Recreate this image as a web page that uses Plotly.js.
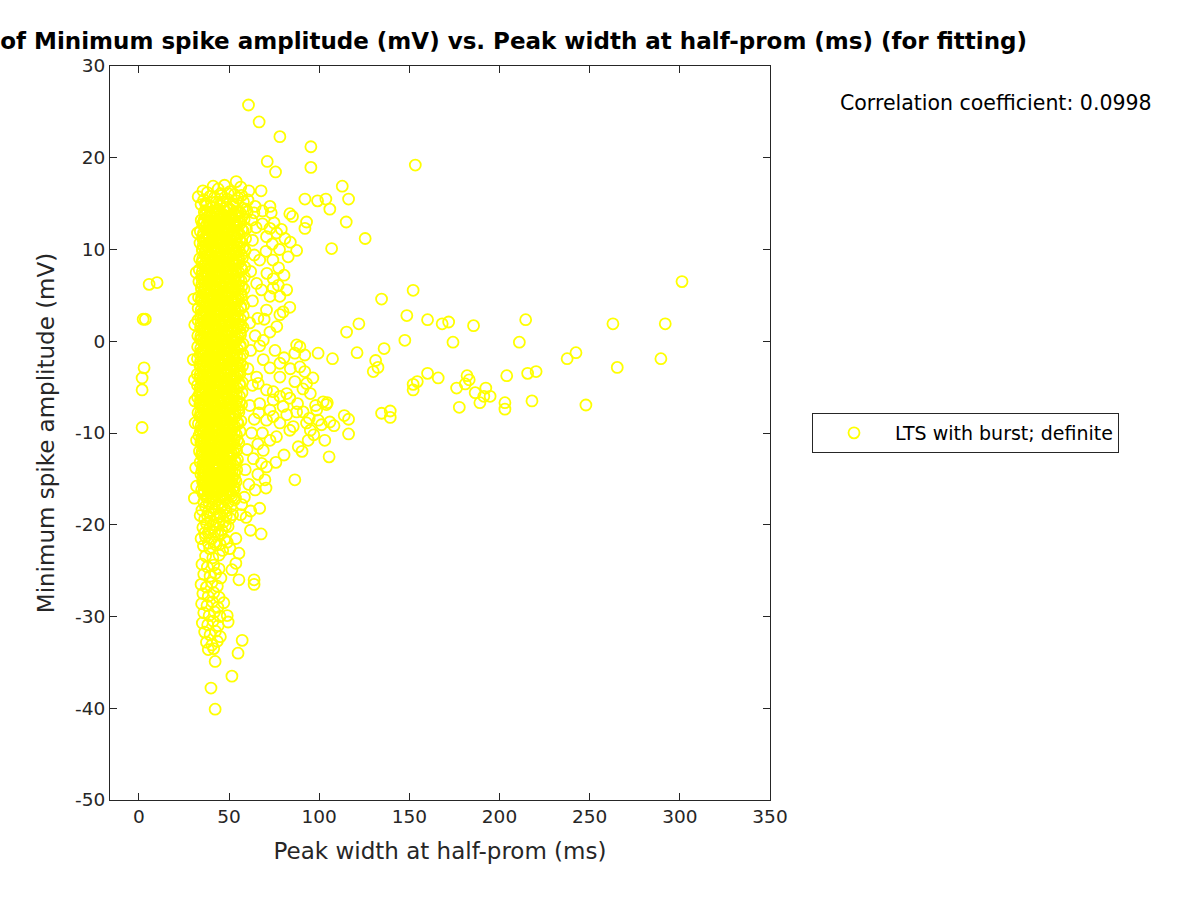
<!DOCTYPE html>
<html>
<head>
<meta charset="utf-8">
<script src="https://cdn.plot.ly/plotly-3.0.1.min.js"></script>
<style>html,body{margin:0;padding:0;background:#fff;}#chart{width:1200px;height:900px;}</style>
</head>
<body>
<div id="chart"></div>
<script>
// ---- Data (Peak width at half-prom (ms), Minimum spike amplitude (mV)) ----
const coreWidth = [
36.3,39.4,43.1,46.2,49.6,53.3,56.2,60.1,
34.6,37.9,41.0,44.7,47.8,51.5,54.6,58.4,
35.9,39.3,42.4,46.1,49.2,52.8,56.1,59.6,
34.1,37.7,40.9,44.4,47.9,51.1,54.7,57.9,
35.6,38.8,42.4,45.6,49.1,52.4,55.9,59.2,
33.9,37.2,40.8,44.1,47.4,50.9,54.2,57.8,
35.3,38.5,42.1,45.3,48.9,52.1,55.7,58.9,
33.7,37.1,40.3,43.9,47.1,50.7,53.9,57.5,
35.1,38.3,41.9,45.1,48.7,51.9,55.5,58.7,
33.5,36.9,40.1,43.7,46.9,50.5,53.7,57.3,
34.9,38.1,41.7,44.9,48.5,51.7,55.3,58.5,
33.3,36.7,39.9,43.5,46.7,50.3,53.5,57.1,
34.7,37.9,41.5,44.7,48.3,51.5,55.1,58.3,
33.1,36.5,39.7,43.3,46.5,50.1,53.3,56.9,
34.5,37.7,41.3,44.5,48.1,51.3,54.9,58.1,
32.9,36.3,39.5,43.1,46.3,49.9,53.1,56.7,
34.3,37.5,41.1,44.3,47.9,51.1,54.7,57.9,
32.8,36.1,39.4,42.9,46.2,49.7,52.9,56.5,
34.2,37.4,40.9,44.2,47.7,50.9,54.5,57.8,
32.7,36.0,39.3,42.8,46.1,49.6,52.8,56.4,
34.1,37.3,40.8,44.1,47.6,50.8,54.4,57.7,
32.6,35.9,39.2,42.7,46.0,49.5,52.7,56.3,
34.0,37.2,40.7,44.0,47.5,50.7,54.3,57.6,
32.5,35.8,39.1,42.6,45.9,49.4,52.6,56.2,
33.9,37.1,40.6,43.9,47.4,50.6,54.2,57.5,
32.4,35.7,39.0,42.5,45.8,49.3,52.5,56.1,
33.8,37.0,40.5,43.8,47.3,50.5,54.1,57.4,
32.5,35.6,38.9,42.4,45.7,49.2,52.4,56.0,
33.7,36.9,40.4,43.7,47.2,50.4,54.0,57.2,
32.6,35.7,38.8,42.3,45.6,49.1,52.3,55.8,
33.8,36.8,40.3,43.6,47.1,50.3,53.8,57.0,
32.8,35.8,38.9,42.2,45.5,48.9,52.1,55.5,
33.9,36.9,40.2,43.5,46.9,50.1,53.5,56.6,
33.0,36.0,39.0,42.2,45.4,48.7,51.8,55.1,
34.1,37.1,40.2,43.4,46.6,49.8,53.0,56.1,
33.3,36.2,39.2,42.2,45.3,48.4,51.5,54.6,
34.4,37.3,40.3,43.3,46.3,49.4,52.4,55.4,
33.6,36.5,39.4,42.3,45.2,48.2,51.1,54.1,
34.7,37.5,40.4,43.2,46.1,49.0,51.9,54.7,
34.0,36.8,39.6,42.4,45.2,48.0,50.8,53.7,
35.0,37.7,40.5,43.3,46.0,48.8,51.6,54.3,
34.4,37.1,39.8,42.5,45.2,47.9,50.6,53.3,
35.3,38.0,40.6,43.3,46.0,48.6,51.3,53.9,
34.8,37.4,40.0,42.6,45.2,47.8,50.4,53.0,
35.6,38.2,40.8,43.4,45.9,48.5,51.1,53.6
];
const coreAmp = [
14.1,13.8,14.2,13.9,14.3,13.8,14.0,14.1,
13.2,13.5,13.0,13.4,13.2,13.5,13.1,13.3,
12.8,12.6,12.5,12.9,12.4,12.7,12.8,12.3,
12.0,11.7,12.1,11.8,12.2,11.7,11.9,12.0,
11.1,11.4,10.9,11.3,11.1,11.4,11.0,11.2,
10.7,10.5,10.4,10.8,10.3,10.6,10.7,10.2,
9.9,9.6,10.0,9.7,10.1,9.6,9.8,9.9,
9.0,9.3,8.8,9.2,9.0,9.3,8.9,9.1,
8.6,8.4,8.3,8.7,8.2,8.5,8.6,8.1,
7.8,7.5,7.9,7.6,8.0,7.5,7.7,7.8,
6.9,7.2,6.7,7.1,6.9,7.2,6.8,7.0,
6.5,6.3,6.2,6.6,6.1,6.4,6.5,6.0,
5.7,5.4,5.8,5.5,5.9,5.4,5.6,5.7,
4.8,5.1,4.6,5.0,4.8,5.1,4.7,4.9,
4.4,4.2,4.1,4.5,4.0,4.3,4.4,3.9,
3.6,3.3,3.7,3.4,3.8,3.3,3.5,3.6,
2.7,3.0,2.5,2.9,2.7,3.0,2.6,2.8,
2.3,2.1,2.0,2.4,1.9,2.2,2.3,1.8,
1.5,1.2,1.6,1.3,1.7,1.2,1.4,1.5,
0.6,0.9,0.4,0.8,0.6,0.9,0.5,0.7,
0.2,0.0,-0.1,0.3,-0.2,0.1,0.2,-0.3,
-0.6,-0.9,-0.5,-0.8,-0.4,-0.9,-0.7,-0.6,
-1.5,-1.2,-1.7,-1.3,-1.5,-1.2,-1.6,-1.4,
-1.9,-2.1,-2.2,-1.8,-2.3,-2.0,-1.9,-2.4,
-2.7,-3.0,-2.6,-2.9,-2.5,-3.0,-2.8,-2.7,
-3.6,-3.3,-3.8,-3.4,-3.6,-3.3,-3.7,-3.5,
-4.0,-4.2,-4.3,-3.9,-4.4,-4.1,-4.0,-4.5,
-4.8,-5.1,-4.7,-5.0,-4.6,-5.1,-4.9,-4.8,
-5.7,-5.4,-5.9,-5.5,-5.7,-5.4,-5.8,-5.6,
-6.1,-6.3,-6.4,-6.0,-6.5,-6.2,-6.1,-6.6,
-6.9,-7.2,-6.8,-7.1,-6.7,-7.2,-7.0,-6.9,
-7.8,-7.5,-8.0,-7.6,-7.8,-7.5,-7.9,-7.7,
-8.2,-8.4,-8.5,-8.1,-8.6,-8.3,-8.2,-8.7,
-9.0,-9.3,-8.9,-9.2,-8.8,-9.3,-9.1,-9.0,
-9.9,-9.6,-10.1,-9.7,-9.9,-9.6,-10.0,-9.8,
-10.3,-10.5,-10.6,-10.2,-10.7,-10.4,-10.3,-10.8,
-11.1,-11.4,-11.0,-11.3,-10.9,-11.4,-11.2,-11.1,
-12.0,-11.7,-12.2,-11.8,-12.0,-11.7,-12.1,-11.9,
-12.4,-12.6,-12.7,-12.3,-12.8,-12.5,-12.4,-12.9,
-13.2,-13.5,-13.1,-13.4,-13.0,-13.5,-13.3,-13.2,
-14.1,-13.8,-14.3,-13.9,-14.1,-13.8,-14.2,-14.0,
-14.5,-14.7,-14.8,-14.4,-14.9,-14.6,-14.5,-15.0,
-15.3,-15.6,-15.2,-15.5,-15.1,-15.6,-15.4,-15.3,
-16.2,-15.9,-16.4,-16.0,-16.2,-15.9,-16.3,-16.1,
-16.6,-16.8,-16.9,-16.5,-17.0,-16.7,-16.6,-17.1
];

const coreFillWidth = [
36.8,40.2,43.6,47.1,50.4,53.9,57.3,
35.3,38.7,42.2,45.5,49.0,52.3,55.8,
36.7,40.0,43.5,46.9,50.3,53.7,57.1,
35.4,38.8,42.1,45.6,48.9,52.4,55.7,
36.6,40.1,43.4,46.8,50.2,53.6,57.0,
35.2,38.6,42.0,45.4,48.8,52.2,55.6,
36.5,39.9,43.3,46.7,50.1,53.5,56.9,
35.1,38.5,41.9,45.3,48.7,52.1,55.5,
36.4,39.8,43.2,46.6,50.0,53.4,56.8,
35.0,38.4,41.8,45.2,48.6,52.0,55.4,
36.3,39.7,43.1,46.5,49.9,53.3,56.7,
34.9,38.3,41.7,45.1,48.5,51.9,55.3,
36.2,39.6,43.0,46.4,49.8,53.2,56.6,
34.8,38.2,41.6,45.0,48.4,51.8,55.2,
36.1,39.5,42.9,46.3,49.7,53.1,56.5,
34.7,38.1,41.5,44.9,48.3,51.7,55.1,
36.0,39.4,42.8,46.2,49.6,53.0,56.4,
34.6,38.0,41.4,44.8,48.2,51.6,55.0,
35.9,39.3,42.7,46.1,49.5,52.9,56.3,
34.5,37.9,41.3,44.7,48.1,51.5,54.9,
35.8,39.2,42.6,46.0,49.4,52.8,56.2,
34.4,37.8,41.2,44.6,48.0,51.4,54.8,
35.7,39.1,42.5,45.9,49.3,52.7,56.1,
34.3,37.7,41.1,44.5,47.9,51.3,54.7,
35.6,39.0,42.4,45.8,49.2,52.6,56.0,
34.2,37.6,41.0,44.4,47.8,51.2,54.6,
35.5,38.9,42.3,45.7,49.1,52.5,55.9,
34.1,37.5,40.9,44.3,47.7,51.1,54.5,
35.4,38.8,42.2,45.6,49.0,52.4,55.8,
34.2,37.4,40.8,44.2,47.6,51.0,54.3,
35.4,38.6,42.0,45.3,48.6,51.9,55.2,
34.4,37.5,40.7,43.9,47.1,50.3,53.6,
35.5,38.6,41.8,45.0,48.2,51.4,54.6,
34.6,37.7,40.8,43.9,47.0,50.1,53.2,
35.7,38.7,41.8,44.8,47.9,51.0,54.1,
34.9,37.9,40.9,43.9,46.9,49.9,52.9,
35.9,38.9,41.8,44.8,47.7,50.7,53.7,
35.2,38.1,41.0,43.9,46.8,49.7,52.6,
36.1,38.9,41.8,44.7,47.6,50.5,53.3,
35.5,38.3,41.1,43.9,46.7,49.5,52.3,
36.3,39.1,41.9,44.7,47.5,50.3,53.0,
35.8,38.5,41.2,43.9,46.6,49.3,52.0,
36.5,39.2,41.9,44.6,47.3,50.0,52.7,
36.0,38.7,41.4,44.1,46.8,49.5,52.2
];
const coreFillAmp = [
13.8,13.6,13.9,13.7,13.5,13.8,13.6,
12.8,13.1,13.0,12.9,13.2,12.9,13.1,
12.4,12.2,12.5,12.3,12.1,12.4,12.2,
11.4,11.7,11.6,11.5,11.8,11.5,11.7,
11.0,10.8,11.1,10.9,10.7,11.0,10.8,
10.0,10.3,10.2,10.1,10.4,10.1,10.3,
9.6,9.4,9.7,9.5,9.3,9.6,9.4,
8.6,8.9,8.8,8.7,9.0,8.7,8.9,
8.2,8.0,8.3,8.1,7.9,8.2,8.0,
7.2,7.5,7.4,7.3,7.6,7.3,7.5,
6.8,6.6,6.9,6.7,6.5,6.8,6.6,
5.8,6.1,6.0,5.9,6.2,5.9,6.1,
5.4,5.2,5.5,5.3,5.1,5.4,5.2,
4.4,4.7,4.6,4.5,4.8,4.5,4.7,
4.0,3.8,4.1,3.9,3.7,4.0,3.8,
3.0,3.3,3.2,3.1,3.4,3.1,3.3,
2.6,2.4,2.7,2.5,2.3,2.6,2.4,
1.6,1.9,1.8,1.7,2.0,1.7,1.9,
1.2,1.0,1.3,1.1,0.9,1.2,1.0,
0.2,0.5,0.4,0.3,0.6,0.3,0.5,
-0.2,-0.4,-0.1,-0.3,-0.5,-0.2,-0.4,
-1.2,-0.9,-1.0,-1.1,-0.8,-1.1,-0.9,
-1.6,-1.8,-1.5,-1.7,-1.9,-1.6,-1.8,
-2.6,-2.3,-2.4,-2.5,-2.2,-2.5,-2.3,
-3.0,-3.2,-2.9,-3.1,-3.3,-3.0,-3.2,
-4.0,-3.7,-3.8,-3.9,-3.6,-3.9,-3.7,
-4.4,-4.6,-4.3,-4.5,-4.7,-4.4,-4.6,
-5.4,-5.1,-5.2,-5.3,-5.0,-5.3,-5.1,
-5.8,-6.0,-5.7,-5.9,-6.1,-5.8,-6.0,
-6.8,-6.5,-6.6,-6.7,-6.4,-6.7,-6.5,
-7.2,-7.4,-7.1,-7.3,-7.5,-7.2,-7.4,
-8.2,-7.9,-8.0,-8.1,-7.8,-8.1,-7.9,
-8.6,-8.8,-8.5,-8.7,-8.9,-8.6,-8.8,
-9.6,-9.3,-9.4,-9.5,-9.2,-9.5,-9.3,
-10.0,-10.2,-9.9,-10.1,-10.3,-10.0,-10.2,
-11.0,-10.7,-10.8,-10.9,-10.6,-10.9,-10.7,
-11.4,-11.6,-11.3,-11.5,-11.7,-11.4,-11.6,
-12.4,-12.1,-12.2,-12.3,-12.0,-12.3,-12.1,
-12.8,-13.0,-12.7,-12.9,-13.1,-12.8,-13.0,
-13.8,-13.5,-13.6,-13.7,-13.4,-13.7,-13.5,
-14.2,-14.4,-14.1,-14.3,-14.5,-14.2,-14.4,
-15.2,-14.9,-15.0,-15.1,-14.8,-15.1,-14.9,
-15.6,-15.8,-15.5,-15.7,-15.9,-15.6,-15.8,
-16.6,-16.3,-16.4,-16.5,-16.2,-16.5,-16.3
];

const coreMidWidth = [
38.0,41.3,44.8,48.0,51.5,54.9,
36.2,39.6,43.0,46.3,49.7,53.1,
37.6,41.0,44.3,47.7,51.0,54.5,
35.9,39.3,42.7,46.1,49.5,52.9,
37.3,40.6,44.0,47.4,50.8,54.2,
35.6,39.0,42.4,45.8,49.2,52.6,
37.0,40.3,43.7,47.1,50.5,53.9,
35.4,38.8,42.1,45.5,48.9,52.3,
36.8,40.1,43.5,46.9,50.3,53.7,
35.2,38.6,41.9,45.3,48.7,52.1,
36.6,39.9,43.3,46.7,50.1,53.5,
35.0,38.4,41.7,45.1,48.5,51.9,
36.4,39.7,43.1,46.5,49.9,53.3,
34.8,38.2,41.5,44.9,48.3,51.7,
36.2,39.5,42.9,46.3,49.7,53.1,
34.6,38.0,41.3,44.7,48.1,51.5,
36.0,39.3,42.7,46.1,49.5,52.9,
34.5,37.8,41.2,44.6,48.0,51.3,
35.8,39.2,42.6,46.0,49.3,52.7,
34.4,37.7,41.1,44.5,47.9,51.2,
35.7,39.1,42.5,45.9,49.2,52.6,
34.3,37.6,41.0,44.4,47.8,51.1,
35.6,39.0,42.4,45.8,49.1,52.5,
34.2,37.5,40.9,44.3,47.7,51.0,
35.5,38.9,42.3,45.7,49.0,52.4,
34.1,37.4,40.8,44.2,47.6,50.9,
35.4,38.8,42.2,45.6,48.9,52.3,
34.1,37.3,40.7,44.1,47.5,50.8,
35.3,38.7,42.1,45.5,48.8,52.2,
34.2,37.3,40.6,44.0,47.4,50.7,
35.3,38.6,42.0,45.3,48.7,52.0,
34.3,37.4,40.6,43.9,47.2,50.5,
35.4,38.6,41.9,45.2,48.5,51.8,
34.5,37.5,40.6,43.8,47.0,50.2,
35.6,38.7,41.8,45.0,48.2,51.4,
34.8,37.7,40.7,43.8,46.9,50.0,
35.9,38.8,41.8,44.8,47.9,50.9,
35.1,38.0,40.9,43.8,46.7,49.7,
36.1,39.0,41.8,44.7,47.6,50.5,
35.4,38.2,41.0,43.8,46.6,49.4,
36.4,39.1,41.9,44.7,47.4,50.2,
35.8,38.5,41.2,43.9,46.6,49.3,
36.7,39.3,42.0,44.7,47.3,50.0,
36.1,38.7,41.3,43.9,46.5,49.1
];
const coreMidAmp = [
14.1,13.9,14.0,14.2,13.8,14.1,
13.2,13.5,13.1,13.3,13.4,13.2,
12.7,12.5,12.6,12.8,12.4,12.7,
11.8,12.1,11.7,11.9,12.0,11.8,
11.3,11.1,11.2,11.4,11.0,11.3,
10.4,10.7,10.3,10.5,10.6,10.4,
9.9,9.7,9.8,10.0,9.6,9.9,
9.0,9.3,8.9,9.1,9.2,9.0,
8.5,8.3,8.4,8.6,8.2,8.5,
7.6,7.9,7.5,7.7,7.8,7.6,
7.1,6.9,7.0,7.2,6.8,7.1,
6.2,6.5,6.1,6.3,6.4,6.2,
5.7,5.5,5.6,5.8,5.4,5.7,
4.8,5.1,4.7,4.9,5.0,4.8,
4.3,4.1,4.2,4.4,4.0,4.3,
3.4,3.7,3.3,3.5,3.6,3.4,
2.9,2.7,2.8,3.0,2.6,2.9,
2.0,2.3,1.9,2.1,2.2,2.0,
1.5,1.3,1.4,1.6,1.2,1.5,
0.6,0.9,0.5,0.7,0.8,0.6,
0.1,-0.1,0.0,0.2,-0.2,0.1,
-0.8,-0.5,-0.9,-0.7,-0.6,-0.8,
-1.3,-1.5,-1.4,-1.2,-1.6,-1.3,
-2.2,-1.9,-2.3,-2.1,-2.0,-2.2,
-2.7,-2.9,-2.8,-2.6,-3.0,-2.7,
-3.6,-3.3,-3.7,-3.5,-3.4,-3.6,
-4.1,-4.3,-4.2,-4.0,-4.4,-4.1,
-5.0,-4.7,-5.1,-4.9,-4.8,-5.0,
-5.5,-5.7,-5.6,-5.4,-5.8,-5.5,
-6.4,-6.1,-6.5,-6.3,-6.2,-6.4,
-6.9,-7.1,-7.0,-6.8,-7.2,-6.9,
-7.8,-7.5,-7.9,-7.7,-7.6,-7.8,
-8.3,-8.5,-8.4,-8.2,-8.6,-8.3,
-9.2,-8.9,-9.3,-9.1,-9.0,-9.2,
-9.7,-9.9,-9.8,-9.6,-10.0,-9.7,
-10.6,-10.3,-10.7,-10.5,-10.4,-10.6,
-11.1,-11.3,-11.2,-11.0,-11.4,-11.1,
-12.0,-11.7,-12.1,-11.9,-11.8,-12.0,
-12.5,-12.7,-12.6,-12.4,-12.8,-12.5,
-13.4,-13.1,-13.5,-13.3,-13.2,-13.4,
-13.9,-14.1,-14.0,-13.8,-14.2,-13.9,
-14.8,-14.5,-14.9,-14.7,-14.6,-14.8,
-15.3,-15.5,-15.4,-15.2,-15.6,-15.3,
-16.2,-15.9,-16.3,-16.1,-16.0,-16.2
];

const topWidth = [32.9,41.2,54.0,61.0,67.8,38.0,44.0,47.5,50.5,56.5,36.0,39.5,43.0,46.0,49.0,52.0,55.0,58.0,37.5,41.0,45.0,48.5,52.5,57.5,63.8,64.5,60.5,
  37.0,40.5,44.0,47.0,50.5,54.0,57.0,34.5,42.0,45.5,49.5,53.0,35.5,59.5];
const topAmp   = [15.75,16.9,17.4,16.4,16.4,16.2,16.6,17.0,16.3,16.8,15.4,15.8,15.2,15.9,15.5,15.0,15.6,15.2,14.8,14.6,14.9,14.6,14.7,14.5,14.0,14.7,15.4,
  15.0,15.1,14.4,15.2,14.4,15.3,15.9,14.9,15.7,16.1,16.1,16.0,16.4,14.4];

const bottomWidth = [36.0,39.0,42.5,46.0,49.5,53.0,57.0, 35.0,38.5,42.0,45.0,48.5,52.0,56.5, 36.5,40.0,43.5,47.0,50.5, 35.5,39.0,42.5,46.0,49.5,53.8,61.9,67.8, 37.0,40.5,44.0,47.5, 35.8,39.3,42.8,46.5,50.5,55.5, 37.0,41.0,44.5,
  37.5,41.0,44.5,48.0,51.5,37.0,40.5,44.0,47.5,51.0,38.0,41.5,45.0,48.5,37.5,41.0,44.5,48.0,38.5,42.0,45.5,38.5,42.0,45.0,49.0,36.5,34.0,34.5];
const bottomAmp   = [-17.5,-17.7,-17.4,-17.9,-17.6,-17.3,-17.8, -18.4,-18.6,-18.3,-18.8,-18.5,-18.9,-18.9, -19.4,-19.6,-19.2,-19.7,-19.3, -20.3,-20.5,-20.1,-20.6,-20.2,-21.5,-20.6,-21.0, -21.3,-21.5,-21.1,-21.6, -22.3,-22.6,-22.2,-22.8,-22.6,-23.1, -23.4,-23.6,-23.3,
  -17.0,-17.2,-17.0,-17.2,-16.9,-18.0,-18.1,-17.8,-18.2,-18.0,-19.0,-18.9,-19.1,-19.0,-19.9,-20.0,-19.8,-20.1,-20.9,-20.8,-21.0,-22.0,-21.9,-22.1,-21.9,-20.9,-19.0,-21.5];

const tailWidth = [35.0,38.0,41.5,44.5,53.8,51.6,55.5,63.9,63.9, 36.0,39.5,42.5,45.5, 34.5,37.5,40.5,43.5, 35.5,38.5,41.5,44.5,47.1, 34.8,37.8,40.8,43.8, 36.0,39.0,42.0,45.0,49.0,49.5, 35.2,38.2,41.2,44.0, 36.5,39.5,42.5,45.2, 37.5,40.5,43.5,38.5,41.5, 57.3,55.0,42.3,51.6,40.0,42.3];
const tailAmp   = [-24.3,-24.6,-24.4,-24.8,-24.2,-24.9,-26.0,-26.0,-26.5, -25.4,-25.6,-25.3,-25.8, -26.5,-26.8,-26.3,-26.7, -27.5,-27.8,-27.4,-27.9,-28.5, -28.6,-28.8,-28.4,-29.0, -29.6,-29.9,-29.5,-30.0,-29.9,-30.6, -30.7,-30.9,-30.5,-31.0, -31.7,-32.0,-31.6,-32.2, -32.8,-33.1,-32.7,-33.6,-33.5, -32.6,-34.0,-34.9,-36.5,-37.8,-40.1];

const leftWidth = [30.5,31.0,30.2,30.8,31.2,32.0,30.8,31.5,31.8,32.5,31.0,32.0];
const leftAmp   = [4.6,1.8,-2.0,-4.2,-8.9,-10.8,-17.1,-13.8,7.5,11.8,-6.5,-15.8];

const upperSpreadWidth = [72.7,73.4,83.7,85.2,93.0,92.1,72.7,70.8,76.4,87.5,82.8,74.3,77.5,67.0,65.3,77.3,82.0,78.2,83.7,72.7,70.8,78.2,72.7,69.0,87.5,
  68.5,75.0,79.0,81.0,74.0,78.0,70.5,84.0,80.5,71.0,68.0,74.5,62.5,63.0,64.0,62.0,63.0,66.0,64.5,61.5,65.0,68.6,
  74.5,80.0,69.5,76.5,62.0,67.0];
const upperSpreadAmp   = [14.7,14.0,13.9,13.6,13.0,12.3,12.3,11.4,11.8,9.9,9.2,8.85,8.0,8.85,6.3,6.1,5.6,4.9,3.7,4.9,3.4,2.9,1.0,0.1,-0.4,
  12.8,12.9,12.2,11.2,10.6,10.0,9.8,10.8,7.2,7.4,5.6,6.8,13.2,11.0,9.4,7.6,4.4,2.5,0.6,2.0,12.4,14.2,
  5.8,3.2,2.4,1.6,-1.0,-0.5];

const lowerSpreadWidth = [86.5,89.3,92.0,99.4,78.2,72.7,78.2,89.3,92.0,93.0,95.1,102.2,104.0,83.7,82.0,83.7,85.6,87.5,91.1,93.0,95.1,98.6,99.5,101.3,105.9,103.1,88.4,93.9,
  86.5,69.9,70.8,68.0,69.0,72.7,76.3,70.8,72.7,67.0,74.5,70.8,66.2,65.3,74.5,78.2,80.0,74.5,78.2,82.0,
  60.5,63.0,61.5,64.0,62.5,66.0,60.0,63.5,59.0,61.0,64.5,58.5,62.0,59.5,66.5,68.5,69.0,75.5,80.5,84.0,86.5,88.0,91.0,96.5,98.0,94.5,97.0,90.5,80.5,76.0,70.5,66.0,67.0];
const lowerSpreadAmp   = [-1.3,-0.6,-1.5,-1.3,-2.4,-2.9,-3.9,-2.8,-3.3,-4.6,-5.7,-6.6,-6.9,-6.2,-8.0,-9.7,-9.3,-7.7,-7.7,-8.9,-9.7,-7.5,-8.6,-9.1,-8.8,-10.8,-11.5,-10.8,
  -15.1,-15.1,-13.7,-13.3,-11.9,-10.8,-10.4,-8.6,-7.5,-6.8,-6.4,-5.3,-4.6,-3.9,-5.5,-6.0,-7.1,-8.2,-8.9,-5.7,
  -3.0,-4.8,-7.0,-8.5,-10.0,-11.2,-11.8,-12.8,-14.0,-15.6,-16.2,-17.0,-18.5,-19.2,-7.8,-10.0,-2.0,-1.0,-1.8,-3.0,-4.4,-6.8,-5.2,-4.0,-7.0,-8.4,-10.2,-12.0,-12.4,-13.2,-16.0,-14.5,-18.2];

const outlierWidth = [2.4,3.6,2.9,1.8,1.8,1.8,5.7,10.1,
  60.8,66.7,78.2,95.4,71.2,75.8,95.4,153.3,
  112.8,116.3,92.1,99.1,103.7,105.9,115.0,125.5,106.9,
  301.2,152.1,134.6,148.6,122.0,115.2,160.1,168.2,171.8,185.6,214.5,262.9,291.9,
  107.4,121.0,136.0,147.5,174.2,211.0,131.3,132.6,130.0,242.4,237.5,289.5,265.3,
  160.1,166.0,154.4,152.1,152.1,182.0,183.2,181.0,176.2,186.5,192.4,194.8,191.3,189.1,204.0,215.6,220.3,203.0,203.0,218.0,247.9,177.7,134.6,139.4,139.4,113.9,116.3,108.2,116.3,105.5,104.5];
const outlierAmp   = [2.4,2.4,-2.9,-4.0,-5.3,-9.4,6.2,6.4,
  25.75,23.9,22.3,21.2,19.6,18.45,18.95,19.2,
  16.9,15.5,15.5,15.3,15.5,14.4,13.0,11.2,10.1,
  6.5,5.55,4.6,2.8,1.9,1.0,2.35,1.9,2.1,1.7,2.35,1.9,1.9,
  -1.9,-1.25,-0.8,0.1,-0.1,-0.1,-2.1,-2.85,-3.3,-1.25,-1.9,-1.9,-2.85,
  -3.5,-4.0,-4.4,-4.7,-5.3,-3.75,-4.2,-4.65,-5.1,-5.6,-5.1,-6.0,-6.0,-6.7,-3.75,-3.5,-3.3,-6.7,-7.4,-6.5,-6.95,-7.2,-7.85,-7.6,-8.3,-8.1,-8.5,-9.2,-10.1,-12.6,-6.7];

const xTicks = [0, 50, 100, 150, 200, 250, 300, 350];
const yTicks = [-50, -40, -30, -20, -10, 0, 10, 20, 30];
const seriesName = 'LTS with burst; definite';
const corrText = 'Correlation coefficient: 0.0998';
const titleText = 'of Minimum spike amplitude (mV) vs. Peak width at half-prom (ms) (for fitting)';

// ---- Build trace ----
const widths = [].concat(coreWidth, coreFillWidth, coreMidWidth, topWidth, bottomWidth, tailWidth, leftWidth, upperSpreadWidth, lowerSpreadWidth, outlierWidth);
const amps   = [].concat(coreAmp, coreFillAmp, coreMidAmp, topAmp, bottomAmp, tailAmp, leftAmp, upperSpreadAmp, lowerSpreadAmp, outlierAmp);

const axisColor = '#262626';
const font = 'DejaVu Sans, Liberation Sans, sans-serif';

const trace = {
  type: 'scatter', mode: 'markers', name: seriesName,
  x: widths, y: amps,
  marker: { symbol: 'circle-open', size: 11, color: 'rgb(255,255,0)', line: { width: 1.8, color: 'rgb(255,255,0)' } },
  showlegend: true, hoverinfo: 'skip'
};

const axisCommon = {
  showgrid: false, zeroline: false, showline: true, linecolor: axisColor, linewidth: 1,
  mirror: 'ticks', ticks: 'inside', ticklen: 7, tickwidth: 1, tickcolor: axisColor,
  tickfont: { family: font, size: 18.5, color: axisColor }
};

const layout = {
  width: 1200, height: 900,
  paper_bgcolor: '#ffffff', plot_bgcolor: '#ffffff',
  margin: { l: 110, r: 430, t: 66, b: 100, pad: 0 },
  font: { family: font, color: axisColor },
  title: { text: titleText, font: { family: font, size: 23, color: '#000', weight: 'bold' },
    xref: 'container', yref: 'container', x: 1027/1200, xanchor: 'right', y: 1 - 41/900, yanchor: 'middle' },
  xaxis: Object.assign({}, axisCommon, { range: [-16, 350], tickvals: xTicks, ticktext: xTicks.map(String),
    title: { text: 'Peak width at half-prom (ms)', font: { family: font, size: 23, color: axisColor }, standoff: 16 } }),
  yaxis: Object.assign({}, axisCommon, { range: [-50, 30], tickvals: yTicks, ticktext: yTicks.map(String),
    title: { text: 'Minimum spike amplitude (mV)', font: { family: font, size: 23, color: axisColor }, standoff: 14 } }),
  showlegend: true,
  legend: { x: (812-110)/660, xanchor: 'left', y: 0.5, yanchor: 'middle', xref: 'paper', yref: 'paper',
    bgcolor: '#ffffff', bordercolor: axisColor, borderwidth: 1, itemwidth: 72,
    font: { family: font, size: 19, color: '#000' } },
  annotations: [{ text: corrText, xref: 'paper', yref: 'paper', x: (838-110)/660, xanchor: 'left',
    y: (800-103)/734, yanchor: 'middle', showarrow: false, font: { family: font, size: 20.5, color: '#000' } }]
};

Plotly.newPlot('chart', [trace], layout, { staticPlot: true, displayModeBar: false });
</script>
</body>
</html>
